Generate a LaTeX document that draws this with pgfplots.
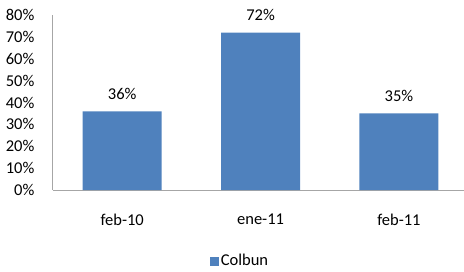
\documentclass[border=0pt]{standalone}
\usepackage{pgfplots}
\pgfplotsset{compat=1.18}
\usepackage{fontspec}
\setmainfont{Carlito}
\definecolor{barblue}{RGB}{79,129,189}
\definecolor{axgray}{RGB}{166,166,166}
\begin{document}
\fontsize{16.5}{19}\selectfont
\begin{tikzpicture}
\begin{axis}[
  scale only axis,
  width=411pt, height=175pt,
  xmin=-0.5, xmax=2.47,
  ymin=0, ymax=80,
  axis lines=left,
  axis line style={-, draw=axgray, line width=1pt},
  ytick={0,10,...,80},
  yticklabels={0\%,10\%,20\%,30\%,40\%,50\%,60\%,70\%,80\%},
  xtick=data,
  xticklabels={feb-10,ene-11,feb-11},
  major tick length=0pt,
  tick label style={font=\fontsize{16.5}{19}\selectfont},
  yticklabel style={xshift=-13pt},
  xticklabel style={yshift=-18pt},
  ybar, bar width=79pt,
  nodes near coords={\pgfmathprintnumber{\pgfplotspointmeta}\%},
  nodes near coords style={font=\fontsize{16.5}{19}\selectfont, yshift=6pt},
  /pgf/number format/assume math mode=true,
  legend style={at={(axis description cs:0.455,0)}, anchor=center, yshift=-71pt, draw=none, font=\fontsize{16.5}{19}\selectfont, inner sep=0pt},
  legend image code/.code={\fill[barblue] (0pt,-4.5pt) rectangle (9pt,4.5pt);},
]
\addplot[fill=barblue, draw=none] coordinates {(0,36) (1,72) (2,35)};
\addlegendentry{Colbun}
\end{axis}
\pgfresetboundingbox
\path (-53pt,-81pt) rectangle (411pt,190pt);
\end{tikzpicture}
\end{document}
